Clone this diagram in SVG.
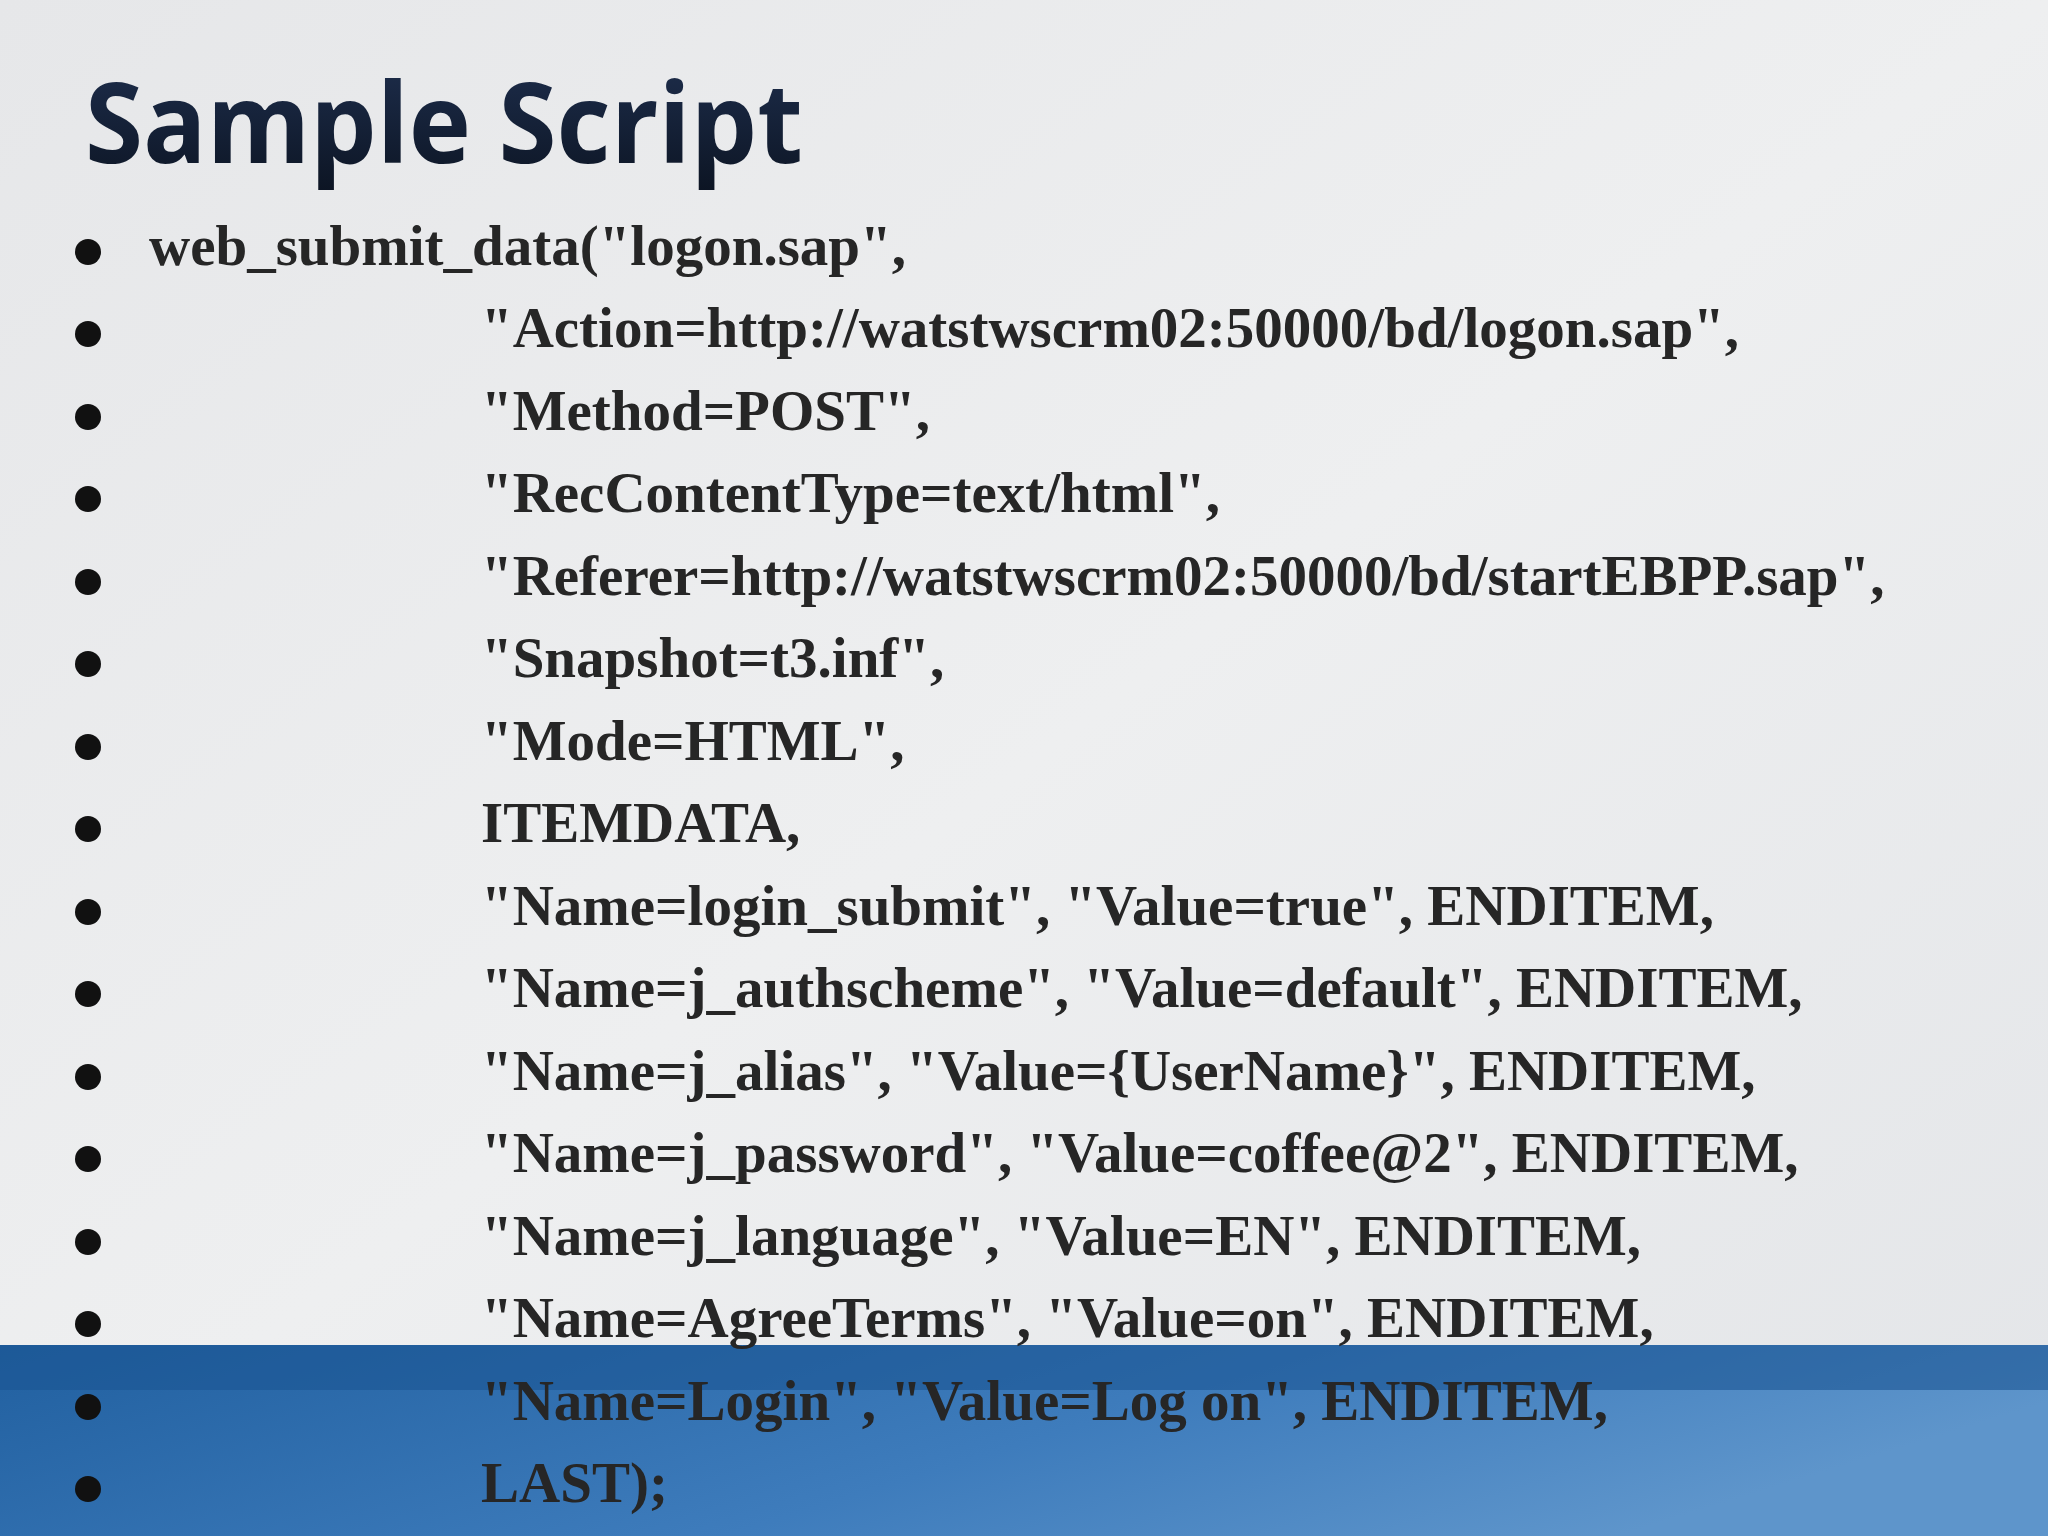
<svg xmlns="http://www.w3.org/2000/svg" width="2048" height="1536" viewBox="0 0 2048 1536">
<defs>
<linearGradient id="bg" x1="0" y1="0" x2="1" y2="1"><stop offset="0" stop-color="#e6e7e9"/><stop offset="0.5" stop-color="#eeeff0"/><stop offset="1" stop-color="#e3e5e8"/></linearGradient>
<linearGradient id="band" x1="0" y1="0" x2="1" y2="0.3"><stop offset="0" stop-color="#2160a0"/><stop offset="0.6" stop-color="#3e7cbc"/><stop offset="1" stop-color="#5e95cb"/></linearGradient>
<linearGradient id="ttl" x1="0" y1="0" x2="0" y2="1"><stop offset="0" stop-color="#1f3050"/><stop offset="1" stop-color="#0c1422"/></linearGradient>
<style>
.t{font-family:"Liberation Serif",serif;font-weight:bold;font-size:57px;fill:#262626}
</style>
</defs>
<rect width="2048" height="1536" fill="url(#bg)"/>
<rect y="1345" width="2048" height="191" fill="url(#band)"/>
<rect y="1345" width="2048" height="45" fill="#1a5592" opacity="0.6"/>
<text x="85" y="163" font-family="Open Sans, sans-serif" font-weight="bold" font-size="112" fill="url(#ttl)" textLength="718" lengthAdjust="spacingAndGlyphs">Sample Script</text>
<g fill="#111">
<circle cx="88" cy="252" r="13"/><circle cx="88" cy="334" r="13"/><circle cx="88" cy="417" r="13"/><circle cx="88" cy="499" r="13"/><circle cx="88" cy="582" r="13"/><circle cx="88" cy="664" r="13"/><circle cx="88" cy="747" r="13"/><circle cx="88" cy="829" r="13"/><circle cx="88" cy="912" r="13"/><circle cx="88" cy="994" r="13"/><circle cx="88" cy="1077" r="13"/><circle cx="88" cy="1159" r="13"/><circle cx="88" cy="1242" r="13"/><circle cx="88" cy="1324" r="13"/><circle cx="88" cy="1407" r="13"/><circle cx="88" cy="1489" r="13"/>
</g>
<g class="t">
<text class="t" x="149" y="265">web_submit_data("logon.sap",</text>
<text class="t" x="481" y="347">"Action=http://watstwscrm02:50000/bd/logon.sap",</text>
<text class="t" x="481" y="430">"Method=POST",</text>
<text class="t" x="481" y="512">"RecContentType=text/html",</text>
<text class="t" x="481" y="595">"Referer=http://watstwscrm02:50000/bd/startEBPP.sap",</text>
<text class="t" x="481" y="677">"Snapshot=t3.inf",</text>
<text class="t" x="481" y="760">"Mode=HTML",</text>
<text class="t" x="481" y="842">ITEMDATA,</text>
<text class="t" x="481" y="925">"Name=login_submit", "Value=true", ENDITEM,</text>
<text class="t" x="481" y="1007">"Name=j_authscheme", "Value=default", ENDITEM,</text>
<text class="t" x="481" y="1090">"Name=j_alias", "Value={UserName}", ENDITEM,</text>
<text class="t" x="481" y="1172">"Name=j_password", "Value=coffee@2", ENDITEM,</text>
<text class="t" x="481" y="1255">"Name=j_language", "Value=EN", ENDITEM,</text>
<text class="t" x="481" y="1337">"Name=AgreeTerms", "Value=on", ENDITEM,</text>
<text class="t" x="481" y="1420">"Name=Login", "Value=Log on", ENDITEM,</text>
<text class="t" x="481" y="1502">LAST);</text>
</g>
</svg>
